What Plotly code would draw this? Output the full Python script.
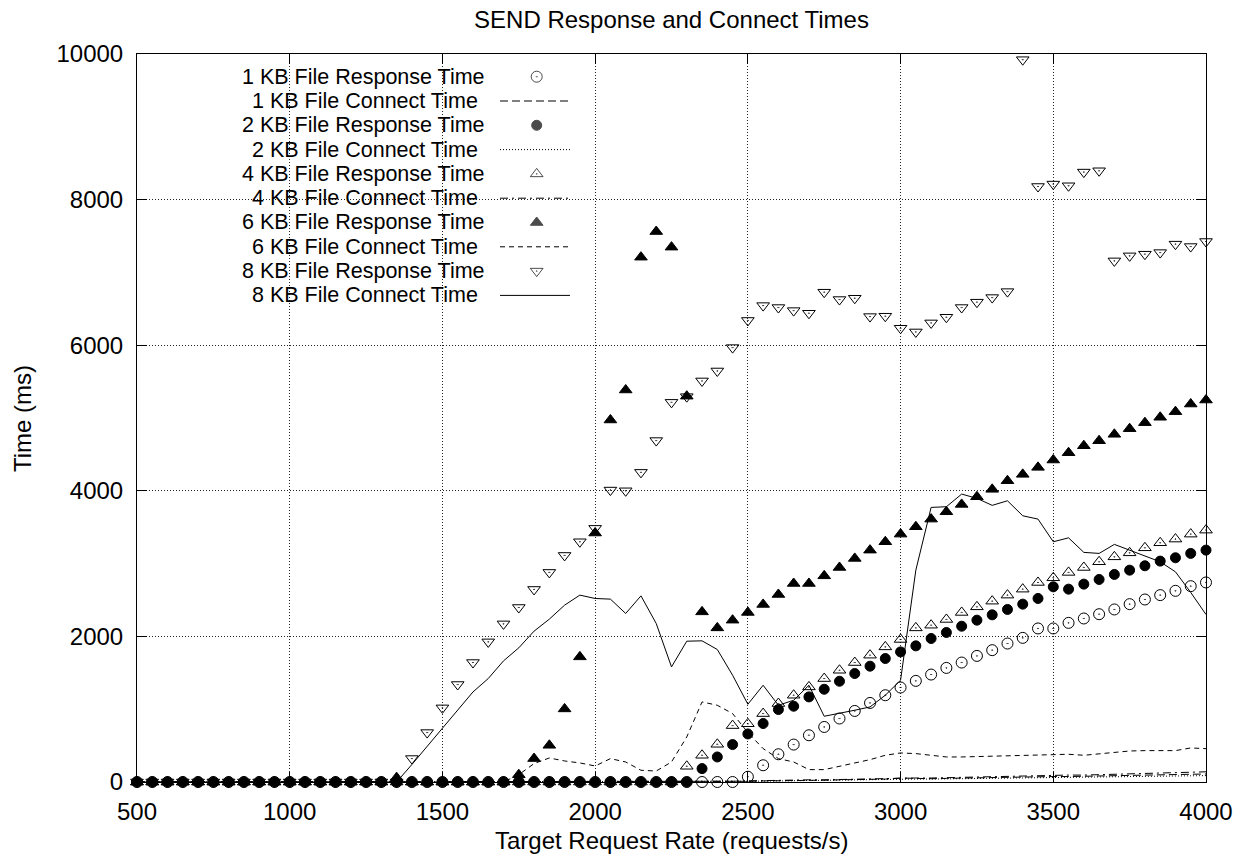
import plotly.graph_objects as go

# ---------------- data ----------------
rate = list(range(500, 4001, 50))  # Target Request Rate (requests/s), 71 points

resp_1kb = [0] * 40 + [72, 230, 381, 514, 642, 756, 872, 976, 1086, 1192,
                       1298, 1389, 1476, 1567, 1641, 1732, 1811, 1902, 1980, 2109,
                       2109, 2186, 2246, 2305, 2370, 2443, 2507, 2567, 2626, 2690, 2741]
conn_1kb = [0] * 40 + [10, 15, 20, 20, 25, 25, 30, 30, 35, 40,
                       55, 45, 45, 50, 55, 55, 60, 60, 65, 70,
                       75, 75, 80, 85, 85, 90, 95, 95, 100, 105, 110]
resp_2kb = [0] * 37 + [184, 344, 514, 660, 803, 995, 1041, 1169, 1274, 1384,
                       1490, 1591, 1696, 1787, 1870, 1971, 2054, 2140, 2223, 2296,
                       2370, 2443, 2521, 2681, 2649, 2718, 2782, 2851, 2910, 2970,
                       3034, 3080, 3140, 3185]
conn_2kb = [0] * 39 + [5, 10, 12, 15, 18, 20, 22, 25, 28, 30, 35,
                       45, 40, 40, 42, 45, 48, 50, 52, 55, 58,
                       62, 65, 68, 70, 72, 75, 78, 80, 82, 85, 88]
resp_4kb = [0] * 36 + [216, 367, 518, 775, 800, 940, 1078, 1192, 1306, 1421,
                       1535, 1641, 1742, 1856, 1958, 2117, 2154, 2233, 2329, 2406,
                       2484, 2567, 2649, 2741, 2805, 2879, 2947, 3025, 3093, 3148,
                       3217, 3286, 3337, 3405, 3460]
conn_4kb = [0] * 38 + [5, 10, 15, 20, 25, 25, 30, 30, 35, 40,
                       40, 45, 60, 55, 55, 60, 65, 65, 70, 75,
                       80, 85, 90, 95, 95, 100, 105, 110, 115, 120,
                       125, 135, 140]
resp_6kb = [0] * 17 + [60] + [0] * 7 + [100, 322, 504, 1004, 1719, 3420, 4973, 5385, 7209, 7561,
                                      7347, 5300, 2337, 2117, 2223, 2329, 2439, 2576, 2727, 2727,
                                      2832, 2947, 3071, 3185, 3300, 3405, 3506, 3611, 3712, 3813,
                                      3918, 4020, 4138, 4226, 4322, 4423, 4523, 4619, 4688, 4776,
                                      4853, 4936, 5010, 5087, 5192, 5247]
conn_6kb = [0] * 25 + [100, 253, 330, 289, 262, 220, 321, 275, 161, 151,
                       275, 619, 1100, 1054, 940, 680, 459, 321, 275, 170,
                       170, 216, 261, 307, 367, 399, 390, 367, 344, 344,
                       350, 353, 353, 367, 367, 376, 381, 367, 390, 412,
                       426, 431, 431, 431, 468, 458]
resp_8kb = [0] * 18 + [322, 679, 1018, 1339, 1641, 1925, 2172, 2397, 2645, 2879,
                       3112, 3300, 3484, 4010, 4000, 4253, 4690, 5215, 5293, 5509,
                       5646, 5967, 6340, 6544, 6517, 6475, 6439, 6728, 6627, 6645,
                       6393, 6398, 6233, 6182, 6306, 6384, 6517, 6591, 6654, 6736,
                       9922, 8180, 8213, 8190, 8378, 8396, 7158, 7227, 7250, 7272,
                       7388, 7355, 7424]
conn_8kb = [0] * 18 + [240, 490, 734, 986, 1237, 1421, 1664, 1843, 2072, 2237,
                       2429, 2567, 2521, 2512, 2315, 2557, 2177, 1581, 1934, 1939,
                       1820, 1467, 1068, 1329, 1054, 1123, 1329, 903, 940, 986,
                       1031, 1192, 1398, 2910, 3772, 3781, 3955, 3896, 3800, 3863,
                       3657, 3611, 3300, 3354, 3154, 3140, 3264, 3185, 3107, 3025,
                       2887, 2604, 2301]

x_ticks = [500, 1000, 1500, 2000, 2500, 3000, 3500, 4000]
y_ticks = [0, 2000, 4000, 6000, 8000, 10000]

series = [
    ("1 KB File Response Time", resp_1kb, "markers", "circle-open-dot", None),
    ("1 KB File Connect Time", conn_1kb, "lines", None, "8px,4px"),
    ("2 KB File Response Time", resp_2kb, "markers", "circle", None),
    ("2 KB File Connect Time", conn_2kb, "lines", None, "1px,2px"),
    ("4 KB File Response Time", resp_4kb, "markers", "triangle-up-open-dot", None),
    ("4 KB File Connect Time", conn_4kb, "lines", None, "8px,4px,2px,4px"),
    ("6 KB File Response Time", resp_6kb, "markers", "triangle-up", None),
    ("6 KB File Connect Time", conn_6kb, "lines", None, "5px,4px"),
    ("8 KB File Response Time", resp_8kb, "markers", "triangle-down-open-dot", None),
    ("8 KB File Connect Time", conn_8kb, "lines", None, "solid"),
]

FONT = "Liberation Sans, Arial, Helvetica, sans-serif"
W, H = 1244, 859
L, R, T, B = 137, 38, 54, 77
PW, PH = W - L - R, H - T - B
KEY_FONT = 21.5

fig = go.Figure()

def msize(sym):
    return 10 if sym == "circle" else 11

for name, vals, mode, sym, dash in series:
    if mode == "markers":
        fig.add_trace(go.Scatter(
            x=rate, y=vals, mode="markers", name=name, cliponaxis=False,
            marker=dict(symbol=sym, size=msize(sym), color="black",
                        line=dict(width=1, color="black"))))
    else:
        fig.add_trace(go.Scatter(
            x=rate, y=vals, mode="lines", name=name, cliponaxis=False,
            line=dict(color="black", width=1, dash=dash)))

# ------------- custom (gnuplot-style) key: text right, sample left -------------
def px_to_paper_x(px):
    return (px - L) / PW

def px_to_paper_y(py):
    return (T + PH - py) / PH

# opaque key background
fig.add_shape(type="rect", xref="paper", yref="paper",
              x0=0, x1=px_to_paper_x(585), y0=px_to_paper_y(312), y1=1,
              fillcolor="white", line=dict(width=0), layer="between")

key_mx, key_my, key_sym, key_size = [], [], [], []
for i, (name, vals, mode, sym, dash) in enumerate(series):
    row_y = px_to_paper_y(76.7 + 24.3 * i)
    right = 485 if mode == "markers" else 478
    fig.add_annotation(text=name, xref="paper", yref="paper",
                       x=px_to_paper_x(right), y=row_y, xanchor="right", yanchor="middle",
                       showarrow=False, borderpad=0, borderwidth=0,
                       font=dict(family=FONT, size=KEY_FONT, color="black"))
    if mode == "markers":
        key_mx.append(px_to_paper_x(536.7))
        key_my.append(row_y)
        key_sym.append(sym)
        key_size.append(msize(sym))
    else:
        fig.add_shape(type="line", xref="paper", yref="paper",
                      x0=px_to_paper_x(500), x1=px_to_paper_x(570), y0=row_y, y1=row_y,
                      line=dict(color="black", width=1, dash=dash), layer="above")

fig.add_trace(go.Scatter(
    x=key_mx, y=key_my, xaxis="x2", yaxis="y2", mode="markers", cliponaxis=False,
    marker=dict(symbol=key_sym, size=key_size, color="black", line=dict(width=1, color="black")),
    showlegend=False, hoverinfo="skip"))

axis_common = dict(
    showline=True, linecolor="black", linewidth=1, mirror="allticks",
    ticks="inside", ticklen=10, tickwidth=1, tickcolor="black",
    showgrid=True, gridcolor="#222222", gridwidth=1, griddash="1px,2px",
    zeroline=False, tickfont=dict(family=FONT, size=24, color="black"),
)

fig.update_layout(
    width=W, height=H, autosize=False,
    margin=dict(l=L, r=R, t=T, b=B, pad=0),
    paper_bgcolor="white", plot_bgcolor="white",
    showlegend=False,
    font=dict(family=FONT, size=24, color="black"),
    title=dict(text="SEND Response and Connect Times", x=0.5, xref="paper", xanchor="center",
               y=1 - 20 / H, yref="container", yanchor="middle",
               font=dict(family=FONT, size=24, color="black")),
    xaxis=dict(range=[500, 4000], tickvals=x_ticks, ticktext=[str(v) for v in x_ticks],
               ticklabelstandoff=8, **axis_common),
    yaxis=dict(range=[0, 10000], tickvals=y_ticks, ticktext=[str(v) for v in y_ticks],
               ticklabelstandoff=8, **axis_common),
    xaxis2=dict(overlaying="x", range=[0, 1], visible=False, anchor="y2"),
    yaxis2=dict(overlaying="y", range=[0, 1], visible=False, anchor="x2"),
)

fig.add_annotation(text="Time (ms)", textangle=-90, xref="paper", yref="paper",
                   x=px_to_paper_x(22), y=0.5, xanchor="center", yanchor="middle",
                   showarrow=False, font=dict(family=FONT, size=24, color="black"))
fig.add_annotation(text="Target Request Rate (requests/s)", xref="paper", yref="paper",
                   x=0.5, y=px_to_paper_y(840), xanchor="center", yanchor="middle",
                   showarrow=False, font=dict(family=FONT, size=24, color="black"))

fig.write_html("out.html")
